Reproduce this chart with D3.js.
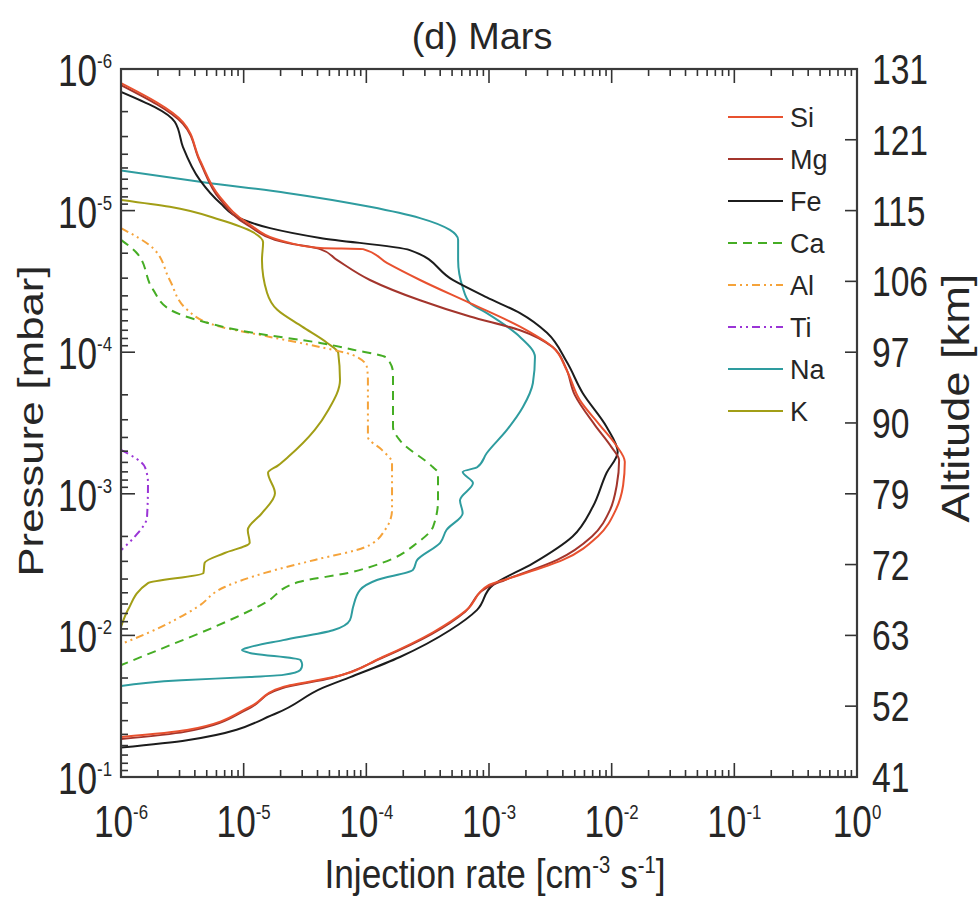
<!DOCTYPE html>
<html lang="en">
<head>
<meta charset="UTF-8">
<title>(d) Mars</title>
<script src="https://d3js.org/d3.v7.min.js"></script>
<style>
  body { margin: 0; background: #fff; }
  text { font-family: "Liberation Sans", Arial, sans-serif; fill: #262626; }
</style>
</head>
<body>
<svg width="979" height="901"></svg>
<script>
// profiles: [pressure (mbar), injection rate (cm^-3 s^-1)]
const siProfile = [[1.26e-6,1e-6],[2.37e-6,3.2e-6],[4.4e-6,4.4e-6],[8.0e-6,6.4e-6],[1.22e-5,1.07e-5],[1.67e-5,2.25e-5],[1.84e-5,4.2e-5],[1.87e-5,9.4e-5],[2.34e-5,1.47e-4],[3.09e-5,2.74e-4],[4.5e-5,7.0e-4],[6.6e-5,1.79e-3],[9.2e-5,3.3e-3],[1.34e-4,4.3e-3],[2.18e-4,5.5e-3],[3.27e-4,8.0e-3],[4.5e-4,1.08e-2],[5.95e-4,1.28e-2],[8.7e-4,1.24e-2],[1.3e-3,1.08e-2],[2.0e-3,7.7e-3],[2.93e-3,4.0e-3],[3.94e-3,1.48e-3],[4.4e-3,1.0e-3],[6.6e-3,6.6e-4],[9.5e-3,3.5e-4],[1.42e-2,1.36e-4],[1.97e-2,5.4e-5],[2.31e-2,2.1e-5],[3.2e-2,1.12e-5],[4.66e-2,3.45e-6],[5.22e-2,1e-6]];
const mgProfile = [[1.3e-6,1e-6],[2.44e-6,3.2e-6],[4.5e-6,4.4e-6],[8.3e-6,6.4e-6],[1.26e-5,1.07e-5],[1.69e-5,2.25e-5],[1.87e-5,4.2e-5],[2.23e-5,5.75e-5],[3.09e-5,1.07e-4],[4.3e-5,2.74e-4],[5.6e-5,7.0e-4],[7.0e-5,1.79e-3],[9.2e-5,3.3e-3],[1.27e-4,4.2e-3],[2.0e-4,5.0e-3],[3.27e-4,7.3e-3],[4.7e-4,1.0e-2],[5.8e-4,1.15e-2],[8.7e-4,1.1e-2],[1.3e-3,9.7e-3],[2.0e-3,6.9e-3],[2.93e-3,3.6e-3],[4.06e-3,1.35e-3],[4.6e-3,9.6e-4],[6.8e-3,6.4e-4],[9.8e-3,3.4e-4],[1.45e-2,1.32e-4],[2.0e-2,5.2e-5],[2.36e-2,2.05e-5],[3.3e-2,1.09e-5],[4.8e-2,3.3e-6],[5.4e-2,1e-6]];
const feProfile = [[1.45e-6,1e-6],[2.37e-6,2.75e-6],[3.56e-6,3.2e-6],[6.1e-6,4.4e-6],[8.8e-6,6.4e-6],[1.16e-5,9.9e-6],[1.33e-5,1.64e-5],[1.56e-5,4.2e-5],[1.9e-5,2.26e-4],[3.1e-5,5.1e-4],[4.1e-5,9.6e-4],[5.3e-5,1.79e-3],[7.3e-5,2.97e-3],[1.17e-4,4.3e-3],[1.94e-4,5.8e-3],[3.37e-4,9.1e-3],[5.07e-4,1.12e-2],[7.1e-4,9.1e-3],[1.24e-3,7.0e-3],[2.0e-3,4.8e-3],[3.1e-3,2.28e-3],[4.4e-3,1.08e-3],[6.6e-3,8.0e-4],[9.2e-3,4.8e-4],[1.42e-2,1.88e-4],[1.97e-2,7.4e-5],[2.35e-2,4.4e-5],[3.53e-2,1.87e-5],[5.5e-2,3.45e-6],[6.2e-2,1e-6]];
const caProfile = [[1.61e-5,1e-6],[2.0e-5,1.35e-6],[3.6e-5,1.82e-6],[5.0e-5,2.5e-6],[6.1e-5,4.7e-6],[7.3e-5,1.19e-5],[8.6e-5,4.2e-5],[9.6e-5,7.8e-5],[1.1e-4,1.47e-4],[1.4e-4,1.65e-4],[3.37e-4,1.65e-4],[4.2e-4,1.88e-4],[6.5e-4,3.5e-4],[7.1e-4,3.84e-4],[1.11e-3,3.84e-4],[1.71e-3,3.5e-4],[2.22e-3,2.6e-4],[3.08e-3,1.34e-4],[3.62e-3,7.1e-5],[4.2e-3,2.8e-5],[5.9e-3,1.49e-5],[8.7e-3,5.8e-6],[1.21e-2,2.3e-6],[1.62e-2,1e-6]];
const alProfile = [[1.33e-5,1e-6],[1.84e-5,1.82e-6],[3.1e-5,2.5e-6],[5.0e-5,3.45e-6],[6.6e-5,6.4e-6],[7.8e-5,1.64e-5],[9.2e-5,4.2e-5],[1.05e-4,7.8e-5],[1.27e-4,1.01e-4],[1.57e-4,1.03e-4],[3.97e-4,1.03e-4],[4.9e-4,1.34e-4],[6.05e-4,1.62e-4],[1.3e-3,1.62e-4],[1.8e-3,1.42e-4],[2.38e-3,9.8e-5],[2.93e-3,3.8e-5],[3.62e-3,1.49e-5],[4.55e-3,7.0e-6],[6.3e-3,4.2e-6],[9.6e-3,1.66e-6],[1.15e-2,1e-6]];
const tiProfile = [[4.9e-4,1e-6],[6.5e-4,1.57e-6],[8.4e-4,1.66e-6],[1.46e-3,1.63e-6],[2.0e-3,1.3e-6],[2.5e-3,1e-6]];
const naProfile = [[5.2e-6,1e-6],[6.3e-6,4.7e-6],[7.5e-6,2.25e-5],[9.4e-6,1.07e-4],[1.13e-5,2.74e-4],[1.37e-5,4.8e-4],[1.61e-5,5.6e-4],[2.23e-5,5.6e-4],[3.47e-5,6.1e-4],[4.5e-5,7.0e-4],[5.3e-5,9.6e-4],[7.8e-5,1.79e-3],[1.08e-4,2.37e-3],[1.65e-4,2.28e-3],[2.44e-4,1.89e-3],[3.54e-4,1.4e-3],[5.15e-4,9.6e-4],[6.5e-4,8.0e-4],[7.0e-4,6.1e-4],[8.4e-4,7.4e-4],[1.11e-3,5.8e-4],[1.37e-3,6.1e-4],[1.8e-3,4.5e-4],[2.22e-3,4.0e-4],[2.93e-3,2.6e-4],[3.45e-3,2.4e-4],[4.06e-3,1.22e-4],[4.77e-3,8.9e-5],[6.3e-3,7.8e-5],[7.8e-3,7.35e-5],[9.2e-3,5.35e-5],[1.08e-2,2.1e-5],[1.21e-2,1.12e-5],[1.27e-2,9.7e-6],[1.33e-2,1.12e-5],[1.49e-2,2.9e-5],[1.62e-2,3.0e-5],[1.75e-2,2.9e-5],[1.9e-2,2.1e-5],[1.97e-2,1.12e-5],[2.07e-2,3.1e-6],[2.28e-2,1e-6]];
const kProfile = [[8.4e-6,1e-6],[9.4e-6,2.5e-6],[1.16e-5,6.4e-6],[1.42e-5,1.19e-5],[1.67e-5,1.44e-5],[2.23e-5,1.41e-5],[3.8e-5,1.55e-5],[5.0e-5,1.87e-5],[6.6e-5,3.0e-5],[8.6e-5,4.8e-5],[1.01e-4,5.9e-5],[1.57e-4,6.1e-5],[2.56e-4,4.9e-5],[3.54e-4,3.8e-5],[5.5e-4,2.3e-5],[6.3e-4,1.91e-5],[7.1e-4,1.58e-5],[9.9e-4,1.8e-5],[1.37e-3,1.41e-5],[1.8e-3,1.08e-5],[2.22e-3,1.12e-5],[2.62e-3,7.0e-6],[3.08e-3,4.8e-6],[3.62e-3,4.7e-6],[4.27e-3,1.66e-6],[6.6e-3,1.14e-6],[8.7e-3,1e-6]];

const speciesNames = ["Si", "Mg", "Fe", "Ca", "Al", "Ti", "Na", "K"];
const speciesProfiles = [siProfile, mgProfile, feProfile, caProfile, alProfile, tiProfile, naProfile, kProfile];
const speciesColors = ["#e8512f", "#a3352c", "#1c1c1c", "#45ad24", "#f5a33a", "#9a34d6", "#2e9c9f", "#a29e16"];
const speciesDashes = [null, null, null, "9,6", "8,4,2,4,2,4", "8,4,2,4,2,4", null, null];
const drawOrder = [7, 6, 5, 4, 3, 2, 1, 0];

const rateExponents = [-6, -5, -4, -3, -2, -1, 0];
const pressureExponents = [-6, -5, -4, -3, -2, -1];
const altitudeLabels = [131, 121, 115, 106, 97, 90, 79, 72, 63, 52, 41];
const altitudePressures = [1e-6, 3.16e-6, 1e-5, 3.16e-5, 1e-4, 3.16e-4, 1e-3, 3.16e-3, 1e-2, 3.16e-2, 1e-1];

const plotLeft = 121, plotRight = 857, plotTop = 69, plotBottom = 777;
const x = d3.scaleLog().domain([1e-6, 1]).range([plotLeft, plotRight]);
const y = d3.scaleLog().domain([1e-6, 1e-1]).range([plotTop, plotBottom]);

const svg = d3.select("svg");

svg.append("defs").append("clipPath").attr("id", "plotclip")
  .append("rect").attr("x", plotLeft).attr("y", plotTop)
  .attr("width", plotRight - plotLeft).attr("height", plotBottom - plotTop);

// profiles
const line = d3.line()
  .x(d => x(d[1]))
  .y(d => y(d[0]))
  .curve(d3.curveMonotoneY);

const curves = svg.append("g").attr("clip-path", "url(#plotclip)");
drawOrder.forEach(i => {
  curves.append("path")
    .datum(speciesProfiles[i])
    .attr("fill", "none")
    .attr("stroke", speciesColors[i])
    .attr("stroke-width", 2)
    .attr("stroke-dasharray", speciesDashes[i])
    .attr("stroke-linejoin", "round")
    .attr("d", line);
});

// frame and ticks
const isDecade = v => Math.abs(Math.log10(v) - Math.round(Math.log10(v))) < 1e-6;
const axes = svg.append("g").attr("stroke", "#333").attr("stroke-width", 1.6);

x.ticks().forEach(v => {
  const len = isDecade(v) ? 14 : 7;
  axes.append("line").attr("x1", x(v)).attr("x2", x(v)).attr("y1", plotTop).attr("y2", plotTop + len);
  axes.append("line").attr("x1", x(v)).attr("x2", x(v)).attr("y1", plotBottom).attr("y2", plotBottom - len);
});
y.ticks().forEach(v => {
  const len = isDecade(v) ? 14 : 7;
  axes.append("line").attr("x1", plotLeft).attr("x2", plotLeft + len).attr("y1", y(v)).attr("y2", y(v));
});
altitudePressures.forEach(p => {
  axes.append("line").attr("x1", plotRight).attr("x2", plotRight - 12).attr("y1", y(p)).attr("y2", y(p));
});

svg.append("rect")
  .attr("x", plotLeft).attr("y", plotTop)
  .attr("width", plotRight - plotLeft).attr("height", plotBottom - plotTop)
  .attr("fill", "none").attr("stroke", "#3a3a3a").attr("stroke-width", 2.2);

// power-of-ten labels
function powerLabel(g, e, anchor) {
  const t = g.append("text").attr("text-anchor", anchor).attr("font-size", 44);
  t.append("tspan").text("10");
  t.append("tspan").attr("font-size", 21).attr("dy", -18).text(e);
}

rateExponents.forEach(e => {
  const g = svg.append("g")
    .attr("transform", `translate(${x(Math.pow(10, e))},837) scale(0.8,1)`);
  powerLabel(g, e, "middle");
});
pressureExponents.forEach(e => {
  const g = svg.append("g")
    .attr("transform", `translate(112,${y(Math.pow(10, e)) + 17}) scale(0.8,1)`);
  powerLabel(g, e, "end");
});

altitudeLabels.forEach((a, i) => {
  svg.append("text")
    .attr("transform", `translate(872,${y(altitudePressures[i]) + 15}) scale(0.8,1)`)
    .attr("font-size", 42)
    .text(a);
});

// titles
svg.append("text")
  .attr("transform", "translate(482,49) scale(1.05,1)")
  .attr("text-anchor", "middle").attr("font-size", 36)
  .text("(d) Mars");

const xl = svg.append("text")
  .attr("transform", "translate(495,888) scale(0.88,1)")
  .attr("text-anchor", "middle").attr("font-size", 40);
xl.append("tspan").text("Injection rate [cm");
xl.append("tspan").attr("font-size", 23).attr("dy", -15).text("-3");
xl.append("tspan").attr("dy", 15).text(" s");
xl.append("tspan").attr("font-size", 23).attr("dy", -15).text("-1");
xl.append("tspan").attr("dy", 15).text("]");

svg.append("text")
  .attr("transform", "translate(43,421) rotate(-90) scale(1.25,1)")
  .attr("text-anchor", "middle").attr("font-size", 35)
  .text("Pressure [mbar]");

svg.append("text")
  .attr("transform", "translate(969,398) rotate(-90) scale(1.16,1)")
  .attr("text-anchor", "middle").attr("font-size", 39)
  .text("Altitude [km]");

// legend
const legend = svg.append("g");
speciesNames.forEach((name, i) => {
  const ly = 117 + i * 42;
  legend.append("line")
    .attr("x1", 728).attr("x2", 783).attr("y1", ly).attr("y2", ly)
    .attr("stroke", speciesColors[i]).attr("stroke-width", 2.2)
    .attr("stroke-dasharray", speciesDashes[i]);
  legend.append("text")
    .attr("x", 790).attr("y", ly + 10)
    .attr("font-size", 27)
    .text(name);
});
</script>
</body>
</html>
